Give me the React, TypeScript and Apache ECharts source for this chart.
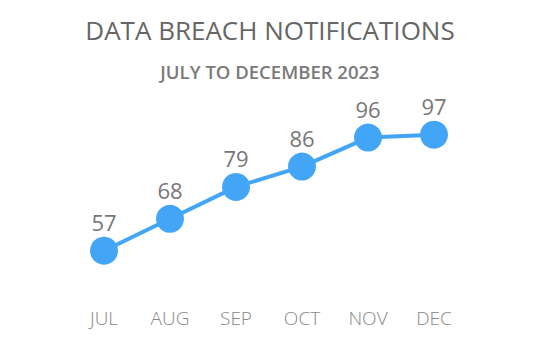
import React, { useEffect, useRef } from "react";
import * as echarts from "echarts";

const months = ["JUL", "AUG", "SEP", "OCT", "NOV", "DEC"];
const notifications = [57, 68, 79, 86, 96, 97];
const titleText = "DATA BREACH NOTIFICATIONS";
const subtitleText = "JULY TO DECEMBER 2023";

export default function App() {
  const ref = useRef<HTMLDivElement>(null);
  useEffect(() => {
    if (!ref.current) return;
    const chart = echarts.init(ref.current, null, { renderer: "svg" });
    chart.setOption({
      animation: false,
      backgroundColor: "#ffffff",
      title: [
        {
          text: titleText,
          left: "center",
          top: 12,
          textStyle: { fontFamily: "Open Sans", fontSize: 26, fontWeight: 500, color: "#666666" },
        },
        {
          text: subtitleText,
          left: "center",
          top: 57,
          textStyle: { fontFamily: "Open Sans", fontSize: 18.5, fontWeight: 600, color: "#7a7a7a" },
        },
      ],
      grid: { left: 71, right: 73, top: 126, height: 174 },
      xAxis: {
        type: "category",
        data: months,
        boundaryGap: true,
        axisLine: { show: false },
        axisTick: { show: false },
        axisLabel: { margin: 8, fontFamily: "Open Sans", fontSize: 19, fontWeight: 300, color: "#888888" },
      },
      yAxis: {
        type: "value",
        min: 40,
        max: 100,
        show: false,
        splitLine: { show: false },
      },
      series: [
        {
          type: "line",
          data: notifications,
          symbol: "circle",
          symbolSize: 28,
          itemStyle: { color: "#42A5F5" },
          lineStyle: { color: "#42A5F5", width: 4 },
          label: {
            show: true,
            position: "top",
            distance: 4,
            fontFamily: "Open Sans",
            fontSize: 22,
            fontWeight: 400,
            color: "#777777",
          },
        },
      ],
    });
    return () => chart.dispose();
  }, []);
  return <div ref={ref} style={{ width: 540, height: 360, position: "absolute", left: 0, top: 0 }} />;
}
